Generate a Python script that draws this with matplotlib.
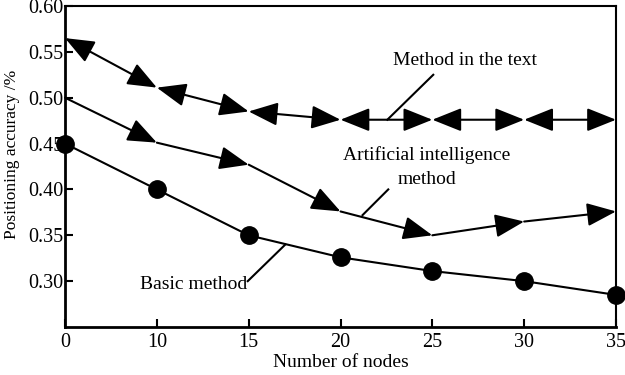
import numpy as np
import matplotlib
matplotlib.use("Agg")
import matplotlib.pyplot as plt

plt.rcParams.update({
    "font.family": "Liberation Serif",
    "font.size": 12,
})

# data
nodes = ["0", "10", "15", "20", "25", "30", "35"]
text_method = [0.565, 0.511, 0.485, 0.476, 0.476, 0.476, 0.476]
ai_method = [0.50, 0.451, 0.427, 0.376, 0.350, 0.365, 0.376]
basic_method = [0.45, 0.40, 0.35, 0.326, 0.311, 0.300, 0.285]
y_ticks = [0.30, 0.35, 0.40, 0.45, 0.50, 0.55, 0.60]

x = np.arange(len(nodes))

fig = plt.figure(figsize=(6.25, 3.75), dpi=100)
ax = fig.add_axes([65 / 625, 48 / 375, 551 / 625, 321 / 375])

head = "head_length=1.5,head_width=0.6"

# Method in the text: double-headed arrows between consecutive points
for i in range(len(x) - 1):
    ax.annotate("", xy=(x[i + 1], text_method[i + 1]), xytext=(x[i], text_method[i]),
                arrowprops=dict(arrowstyle="<|-|>," + head,
                                color="black", lw=1.5, shrinkA=0, shrinkB=0),
                annotation_clip=False)

# Artificial intelligence method: single arrows ending on each point
for i in range(len(x) - 1):
    ax.annotate("", xy=(x[i + 1], ai_method[i + 1]), xytext=(x[i], ai_method[i]),
                arrowprops=dict(arrowstyle="-|>," + head,
                                color="black", lw=1.5, shrinkA=0, shrinkB=0),
                annotation_clip=False)

# Basic method: line with filled circles
ax.plot(x, basic_method, "-o", color="black", lw=1.5, markersize=12.5,
        clip_on=False, zorder=5)

# labels with leader lines
ax.text(4.36, 0.541, "Method in the text", ha="center", va="center", fontsize=14)
ax.plot([4.01, 3.51], [0.525, 0.476], color="black", lw=1.5)

ax.text(3.94, 0.437, "Artificial intelligence", ha="center", va="center", fontsize=14)
ax.text(3.94, 0.411, "method", ha="center", va="center", fontsize=14)
ax.plot([3.52, 3.24], [0.400, 0.372], color="black", lw=1.5)

ax.text(1.405, 0.296, "Basic method", ha="center", va="center", fontsize=14)
ax.plot([1.99, 2.40], [0.300, 0.340], color="black", lw=1.5)

ax.set_xlim(0, 6)
ax.set_ylim(0.25, 0.60)
ax.set_xticks(x)
ax.set_xticklabels(nodes)
ax.set_yticks(y_ticks)
ax.set_yticklabels(["%.2f" % v for v in y_ticks])
ax.tick_params(direction="in", length=6, width=1.5, labelsize=14.5, pad=4)
ax.tick_params(axis="y", pad=1)
for sp in ax.spines.values():
    sp.set_linewidth(1.5)
ax.spines["left"].set_linewidth(2)
ax.spines["bottom"].set_linewidth(2)

ax.set_xlabel("Number of nodes", fontsize=14, labelpad=2)
fig.text(12 / 625, 1 - 154 / 375, "Positioning accuracy /%", rotation=90,
         ha="center", va="center", fontsize=12.5)

fig.savefig("out.png", dpi=100)
